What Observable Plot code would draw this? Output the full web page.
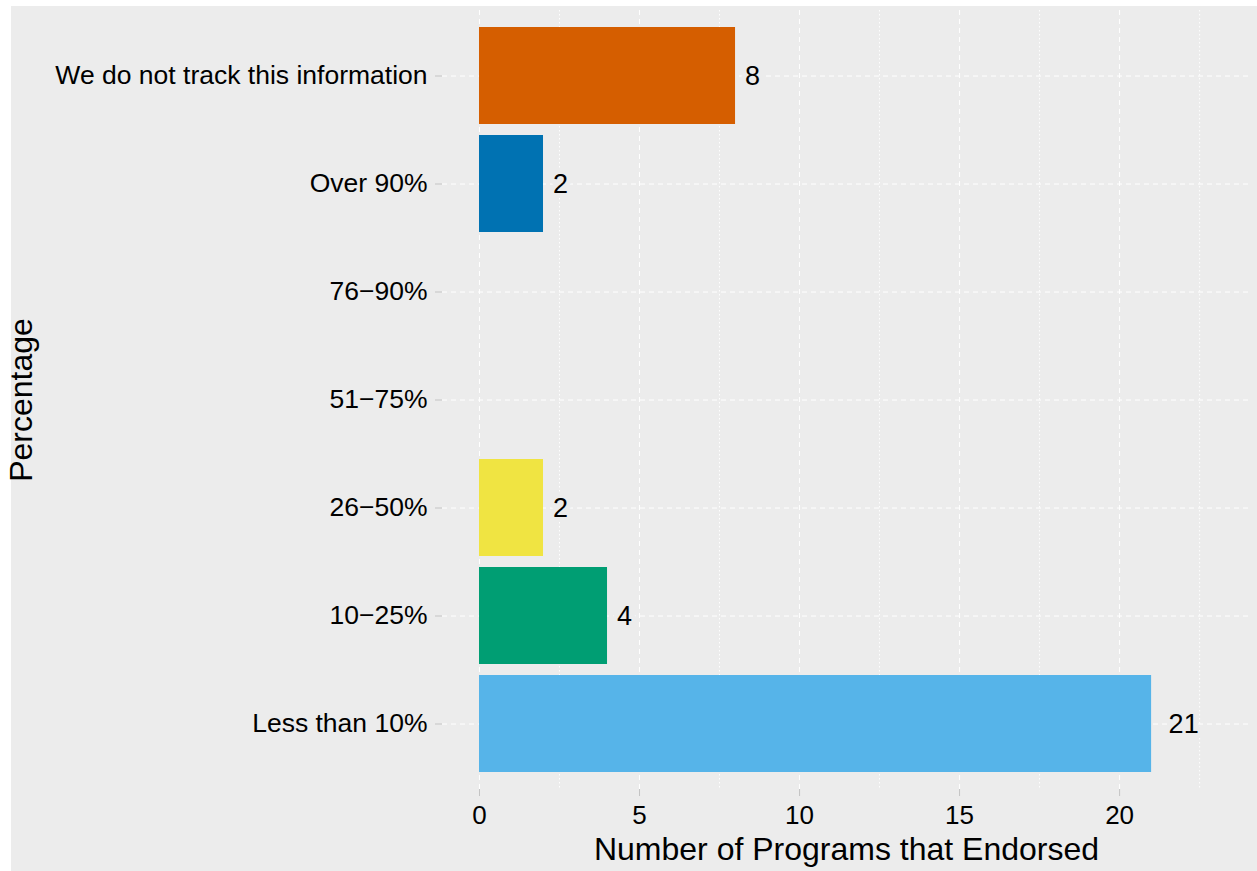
<!DOCTYPE html>
<html><head><meta charset="utf-8">
<script src="https://cdn.jsdelivr.net/npm/d3@7"></script>
<script src="https://cdn.jsdelivr.net/npm/@observablehq/plot@0.6"></script>
<style>
html,body{margin:0;padding:0;background:#fff;}
#chart{position:absolute;left:11px;top:6px;width:1246px;height:865px;background:#ECECEC;}
#chart svg{overflow:visible;display:block;}
</style></head><body><div id="chart"></div>
<script>
const categories = ["We do not track this information","Over 90%","76−90%","51−75%","26−50%","10−25%","Less than 10%"];
const counts = [8, 2, 0, 0, 2, 4, 21];
const palette = ["#D55E00","#0072B2","#CC79A7","#E69F00","#F0E442","#009E73","#56B4E9"];
const majorTicks = [0, 5, 10, 15, 20];
const minorTicks = [2.5, 7.5, 12.5, 17.5, 22.5];
const xTitle = "Number of Programs that Endorsed";
const yTitle = "Percentage";

const data = categories.map((c, i) => ({category: c, count: counts[i]}));
const shown = data.filter(d => d.count > 0);
const bg = "#ECECEC";
const labelSize = 27;
const groups = d3.groups(shown, d => String(d.count).length);

const chart = Plot.plot({
  width: 1246, height: 865,
  marginLeft: 431, marginRight: 7, marginTop: 4, marginBottom: 82,
  style: {background: "transparent", fontFamily: "'Liberation Sans', Arial, sans-serif", color: "black", overflow: "visible"},
  x: {domain: [-1.156, 24.09]},
  y: {domain: categories, paddingInner: 0.1, paddingOuter: 0.15},
  color: {domain: categories, range: palette},
  marks: [
    Plot.gridX(minorTicks, {stroke: "white", strokeOpacity: 1, strokeDasharray: "1.5,2.5"}),
    Plot.gridX(majorTicks, {stroke: "white", strokeOpacity: 1, strokeDasharray: "5,4"}),
    Plot.gridY(categories, {stroke: "white", strokeOpacity: 1, strokeDasharray: "5,4"}),
    Plot.barX(shown, {x: "count", y: "category", fill: "category"}),
    ...groups.map(([len, rows]) => Plot.text(rows, {
      x: "count", y: "category", text: d => String(d.count),
      textAnchor: "start", dx: 2 + 0.5 * len * 0.556 * labelSize,
      fontSize: labelSize, fill: "black", stroke: bg, strokeWidth: 10
    })),
    Plot.axisX(majorTicks, {tickSize: 7, tickPadding: 9, fontSize: 26, stroke: "#c4c4c4", fill: "black", label: null}),
    Plot.axisY({tickSize: 7, tickPadding: 8, fontSize: 26.5, stroke: "#c4c4c4", fill: "black", label: null}),
    Plot.text([xTitle], {frameAnchor: "bottom", lineAnchor: "top", dy: 48, fontSize: 32, fill: "black"}),
    Plot.text([yTitle], {frameAnchor: "left", textAnchor: "middle", rotate: -90, dx: -420.5, fontSize: 32, fill: "black"})
  ]
});
document.getElementById("chart").appendChild(chart);
</script>
</body></html>
